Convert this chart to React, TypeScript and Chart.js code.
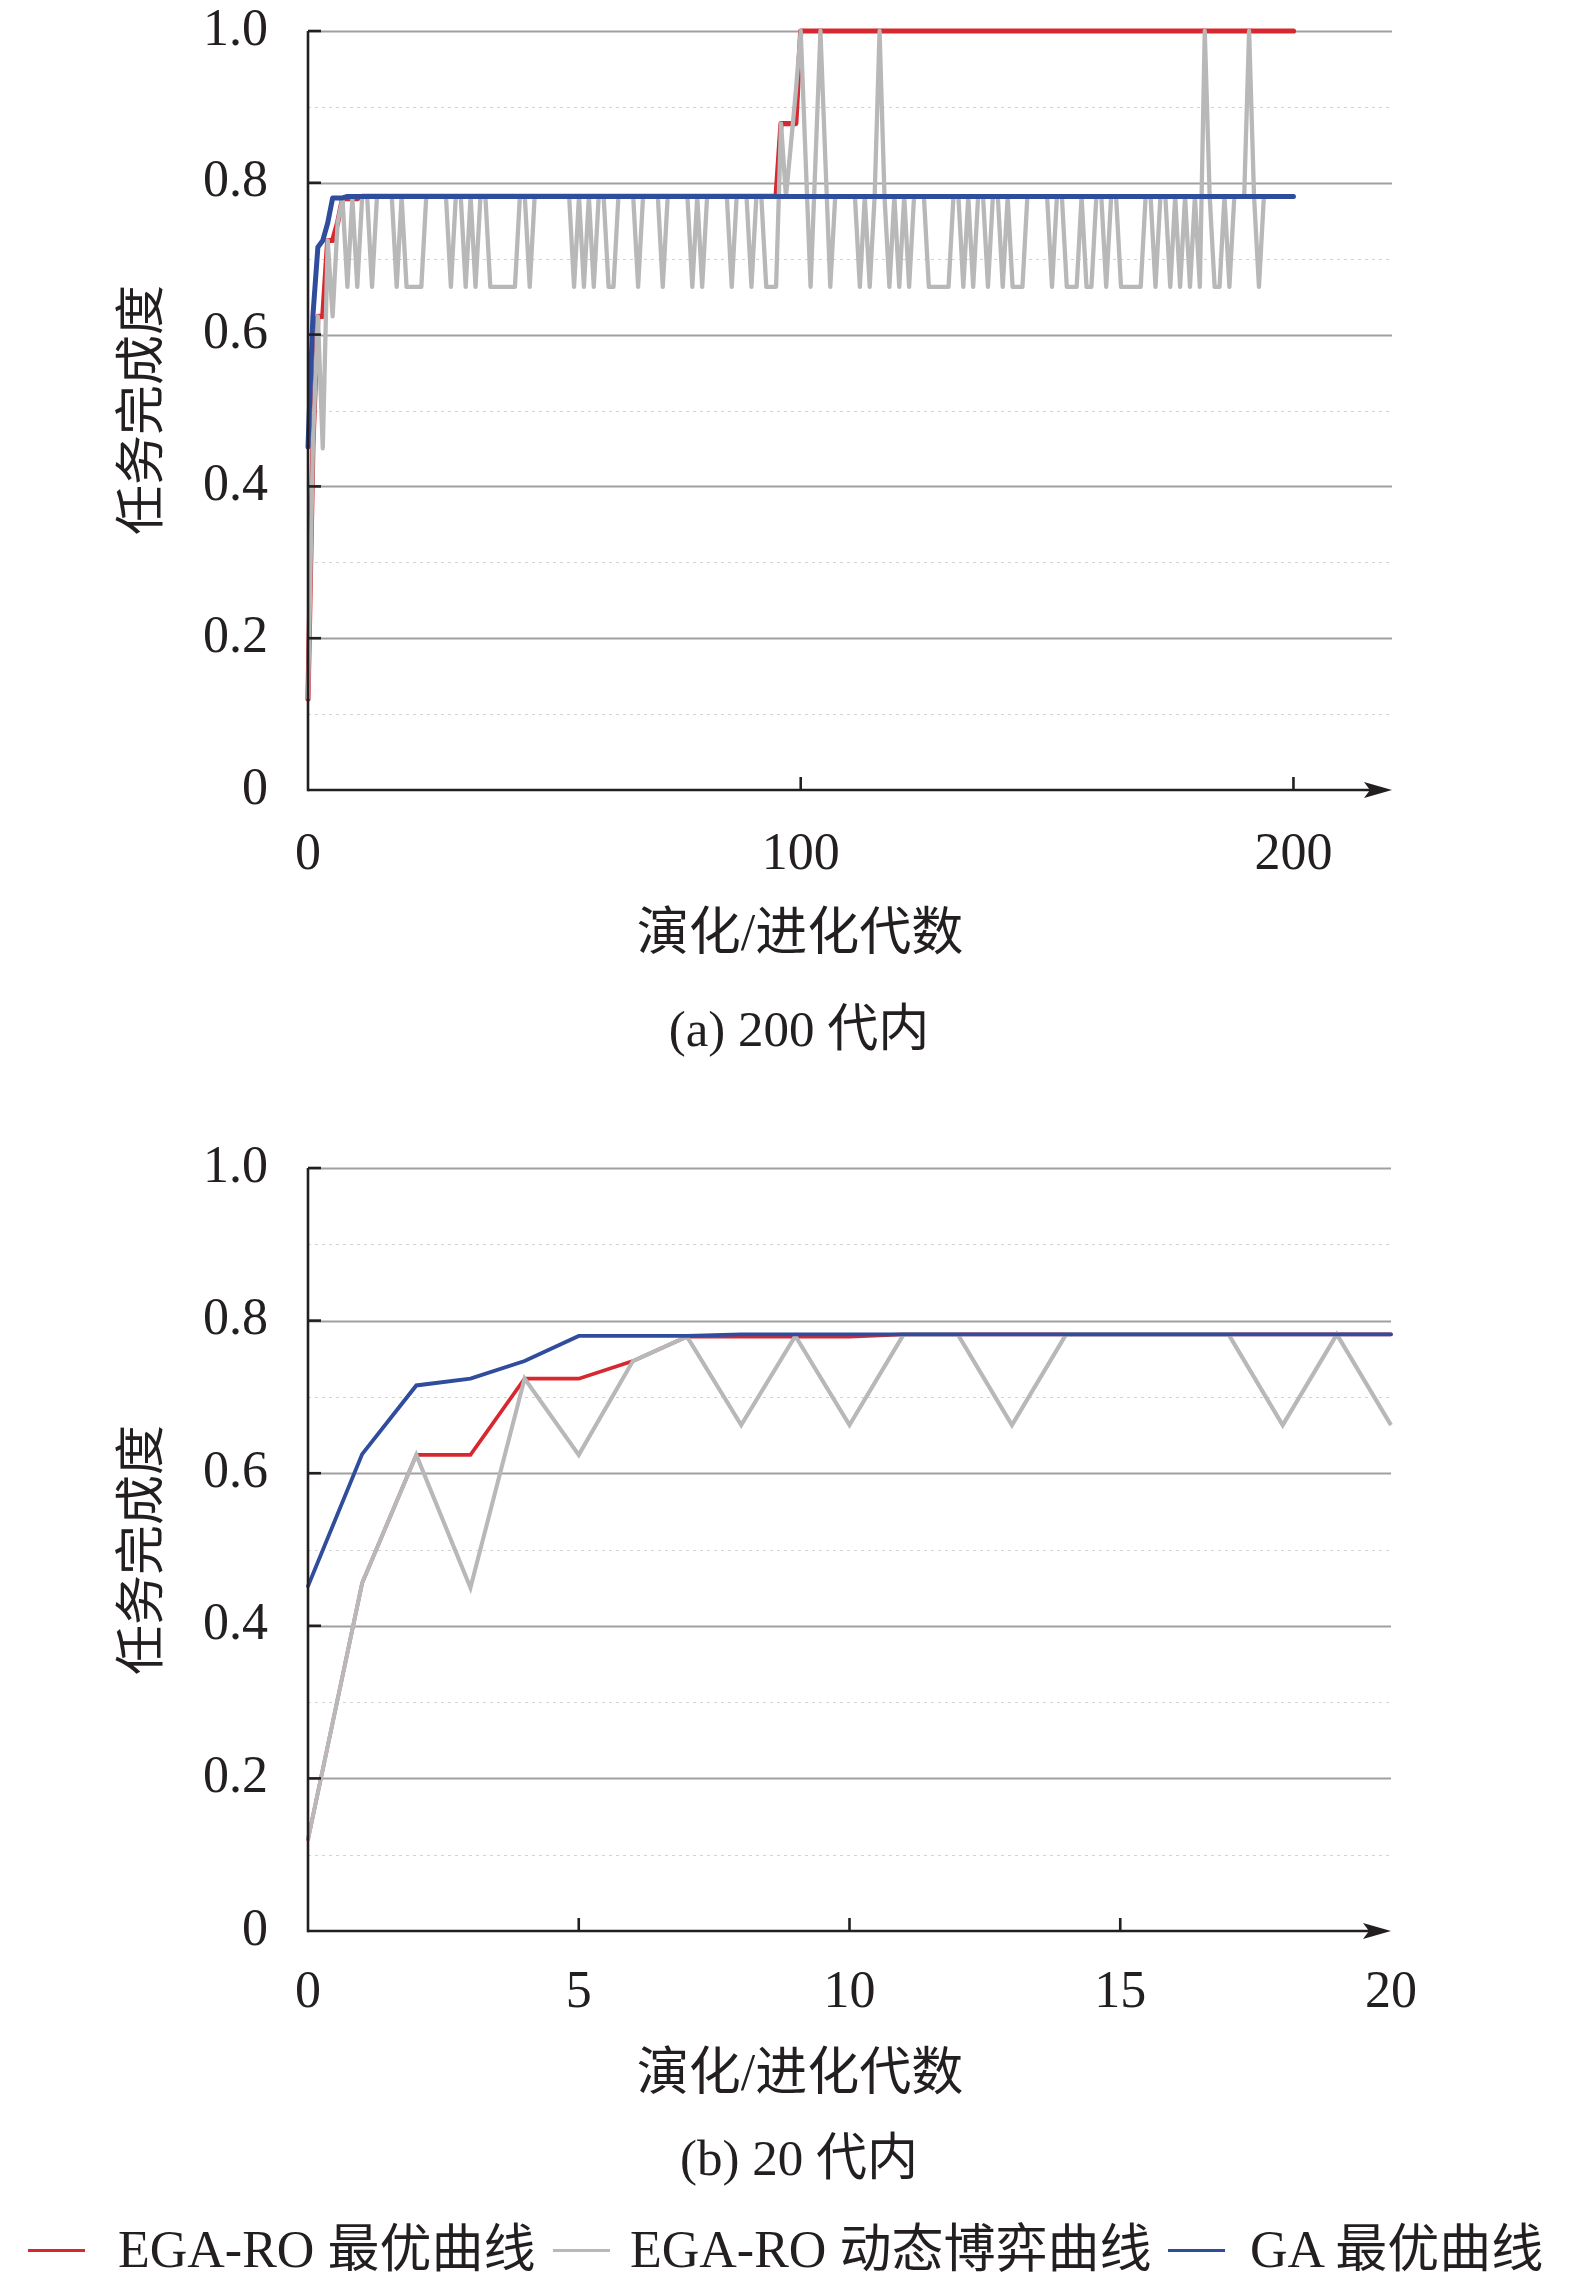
import { useEffect, useRef } from 'react';
import { Chart, registerables } from 'chart.js';

Chart.register(...registerables);

// ---- data ----

// (a) 200 generations: best curves given by their corner points (generation, value)
const egaBestGenA = [0, 1, 2, 3, 4, 5, 6, 7, 10, 11, 95, 96, 99, 100, 200];
const egaBestValA = [0.12, 0.456, 0.624, 0.624, 0.724, 0.724, 0.747, 0.779, 0.779, 0.782, 0.782, 0.878, 0.878, 1.0, 1.0];

const gaBestGenA = [0, 1, 2, 3, 4, 5, 7, 8, 200];
const gaBestValA = [0.452, 0.625, 0.715, 0.724, 0.747, 0.78, 0.78, 0.782, 0.782];

// dynamic game curve, one value per generation 0..194
const egaDynA = [
  0.12, 0.456, 0.624, 0.45, 0.724, 0.624, 0.747, 0.779, 0.663, 0.78,
  0.663, 0.782, 0.782, 0.663, 0.782, 0.782, 0.782, 0.782, 0.663, 0.782,
  0.663, 0.663, 0.663, 0.663, 0.782, 0.782, 0.782, 0.782, 0.782, 0.663,
  0.782, 0.782, 0.663, 0.782, 0.663, 0.782, 0.782, 0.663, 0.663, 0.663,
  0.663, 0.663, 0.663, 0.782, 0.782, 0.663, 0.782, 0.782, 0.782, 0.782,
  0.782, 0.782, 0.782, 0.782, 0.663, 0.782, 0.663, 0.782, 0.663, 0.782,
  0.782, 0.663, 0.663, 0.782, 0.782, 0.782, 0.782, 0.663, 0.782, 0.782,
  0.782, 0.782, 0.663, 0.782, 0.782, 0.782, 0.782, 0.782, 0.663, 0.782,
  0.663, 0.782, 0.782, 0.782, 0.782, 0.782, 0.663, 0.782, 0.782, 0.782,
  0.663, 0.782, 0.782, 0.663, 0.663, 0.663, 0.878, 0.782, 0.85, 0.92,
  1.0, 0.83, 0.663, 0.83, 1.0, 0.83, 0.663, 0.782, 0.782, 0.782,
  0.782, 0.782, 0.663, 0.782, 0.663, 0.782, 1.0, 0.782, 0.663, 0.782,
  0.663, 0.782, 0.663, 0.782, 0.782, 0.782, 0.663, 0.663, 0.663, 0.663,
  0.663, 0.782, 0.782, 0.663, 0.782, 0.663, 0.782, 0.782, 0.663, 0.782,
  0.782, 0.663, 0.782, 0.663, 0.663, 0.663, 0.782, 0.782, 0.782, 0.782,
  0.782, 0.663, 0.782, 0.782, 0.663, 0.663, 0.663, 0.782, 0.663, 0.663,
  0.782, 0.782, 0.663, 0.782, 0.782, 0.663, 0.663, 0.663, 0.663, 0.663,
  0.782, 0.782, 0.663, 0.782, 0.782, 0.663, 0.782, 0.663, 0.782, 0.663,
  0.782, 0.663, 1.0, 0.782, 0.663, 0.663, 0.782, 0.663, 0.782, 0.782,
  0.782, 1.0, 0.782, 0.663, 0.782
];

// (b) 20 generations
const gensB = [0, 1, 2, 3, 4, 5, 6, 7, 8, 9, 10, 11, 12, 13, 14, 15, 16, 17, 18, 19, 20];
const egaBestB = [0.12, 0.456, 0.624, 0.624, 0.724, 0.724, 0.747, 0.779, 0.779, 0.779, 0.779, 0.782, 0.782, 0.782, 0.782, 0.782, 0.782, 0.782, 0.782, 0.782, 0.782];
const egaDynB = [0.12, 0.456, 0.624, 0.45, 0.724, 0.624, 0.747, 0.779, 0.663, 0.78, 0.663, 0.782, 0.782, 0.663, 0.782, 0.782, 0.782, 0.782, 0.663, 0.782, 0.663];
const gaBestB = [0.452, 0.625, 0.715, 0.724, 0.747, 0.78, 0.78, 0.78, 0.782, 0.782, 0.782, 0.782, 0.782, 0.782, 0.782, 0.782, 0.782, 0.782, 0.782, 0.782, 0.782];

const xTicksA = [0, 100, 200];
const xTicksB = [0, 5, 10, 15, 20];
const yGrid = [0, 0.1, 0.2, 0.3, 0.4, 0.5, 0.6, 0.7, 0.8, 0.9, 1.0];
const yMajor = [0, 0.2, 0.4, 0.6, 0.8, 1.0];
const yLabels = ['0', '0.2', '0.4', '0.6', '0.8', '1.0'];

const seriesNames = ['EGA-RO 最优曲线', 'EGA-RO 动态博弈曲线', 'GA 最优曲线'];

// ---- styles ----
const RED = '#d7282f';
const GRAY = '#b8b8b8';
const BLUE = '#2f4d9c';
const INK = '#231f20';
const FONT = "'Liberation Serif', 'Noto Sans CJK SC', serif";

const toPts = (xs: number[], ys: number[]) => ys.map((y, i) => ({ x: xs[i], y }));
const idxPts = (ys: number[]) => ys.map((y, i) => ({ x: i, y }));

const isMajor = (v: number) => yMajor.some((m) => Math.abs(m - v) < 1e-6);

// gridlines, axis lines, inward ticks and the arrow
const axesDecor = {
  id: 'axesDecor',
  beforeDatasetsDraw(chart: any) {
    const { ctx, chartArea: a, scales } = chart;
    ctx.save();
    yGrid.forEach((v) => {
      if (v === 0) return;
      const y = Math.round(scales.y.getPixelForValue(v)) + 0.5;
      ctx.beginPath();
      if (isMajor(v)) {
        ctx.setLineDash([]);
        ctx.strokeStyle = '#a0a0a0';
        ctx.lineWidth = 1.8;
      } else {
        ctx.setLineDash([3, 4]);
        ctx.strokeStyle = '#d2d2d2';
        ctx.lineWidth = 1.2;
      }
      ctx.moveTo(a.left, y);
      ctx.lineTo(a.right, y);
      ctx.stroke();
    });
    ctx.restore();
  },
  afterDatasetsDraw(chart: any) {
    const { ctx, chartArea: a, scales } = chart;
    const x0 = scales.x.getPixelForValue(0);
    const y0 = scales.y.getPixelForValue(0);
    const yTop = scales.y.getPixelForValue(1);
    ctx.save();
    ctx.setLineDash([]);
    ctx.strokeStyle = INK;
    ctx.fillStyle = INK;
    ctx.lineWidth = 2.6;
    // y axis
    ctx.beginPath();
    ctx.moveTo(x0, y0 + 1.3);
    ctx.lineTo(x0, yTop);
    ctx.stroke();
    // y ticks (inward)
    yMajor.forEach((v) => {
      if (v === 0) return;
      const y = scales.y.getPixelForValue(v);
      ctx.beginPath();
      ctx.moveTo(x0, y);
      ctx.lineTo(x0 + 13, y);
      ctx.stroke();
    });
    // x axis with arrow
    const tip = a.right;
    ctx.beginPath();
    ctx.moveTo(x0, y0);
    ctx.lineTo(tip - 20, y0);
    ctx.stroke();
    ctx.beginPath();
    ctx.moveTo(tip, y0);
    ctx.lineTo(tip - 28, y0 - 8);
    ctx.lineTo(tip - 22, y0);
    ctx.lineTo(tip - 28, y0 + 8);
    ctx.closePath();
    ctx.fill();
    // x ticks (upward)
    (chart.options.xTickMarks || []).forEach((v: number) => {
      const x = scales.x.getPixelForValue(v);
      if (v === 0 || x > tip - 30) return;
      ctx.beginPath();
      ctx.moveTo(x, y0);
      ctx.lineTo(x, y0 - 13);
      ctx.stroke();
    });
    ctx.restore();
  }
};

interface PanelProps {
  top: number;
  height: number;
  padTop: number;
  padRight: number;
  xMax: number;
  xTicks: number[];
  tickPad: number;
  best: { x: number; y: number }[];
  dyn: { x: number; y: number }[];
  ga: { x: number; y: number }[];
  widths: [number, number, number];
  join: 'round' | 'miter';
}

function CurvePanel(p: PanelProps) {
  const canvasRef = useRef<HTMLCanvasElement | null>(null);

  useEffect(() => {
    if (!canvasRef.current) return;
    const tickFont = { family: FONT, size: 52 };
    const chart = new Chart(canvasRef.current, {
      type: 'line',
      data: {
        datasets: [
          {
            label: seriesNames[0],
            data: p.best,
            borderColor: RED,
            borderWidth: p.widths[0],
            pointRadius: 0,
            borderJoinStyle: p.join,
            borderCapStyle: 'round',
            clip: 8,
            order: 3
          },
          {
            label: seriesNames[1],
            data: p.dyn,
            borderColor: GRAY,
            borderWidth: p.widths[1],
            pointRadius: 0,
            borderJoinStyle: p.join,
            clip: 8,
            order: 2
          },
          {
            label: seriesNames[2],
            data: p.ga,
            borderColor: BLUE,
            borderWidth: p.widths[2],
            pointRadius: 0,
            borderJoinStyle: p.join,
            borderCapStyle: 'round',
            clip: 8,
            order: 1
          }
        ]
      },
      options: {
        responsive: true,
        maintainAspectRatio: false,
        animation: false,
        xTickMarks: p.xTicks,
        layout: { padding: { top: p.padTop, right: p.padRight, left: 0, bottom: 0 } },
        plugins: { legend: { display: false }, tooltip: { enabled: false } },
        scales: {
          x: {
            type: 'linear',
            min: 0,
            max: p.xMax,
            grid: { display: false },
            border: { display: false },
            afterBuildTicks: (s: any) => {
              s.ticks = p.xTicks.map((v) => ({ value: v }));
            },
            afterFit: (s: any) => {
              s.height = 110;
              s.paddingLeft = 0;
              s.paddingRight = 0;
            },
            ticks: { font: tickFont, color: INK, padding: p.tickPad, maxRotation: 0, autoSkip: false, includeBounds: false }
          },
          y: {
            type: 'linear',
            min: 0,
            max: 1,
            grid: { display: false },
            border: { display: false },
            afterBuildTicks: (s: any) => {
              s.ticks = yGrid.map((v) => ({ value: v }));
            },
            afterFit: (s: any) => {
              s.width = 308;
              s.paddingTop = 0;
              s.paddingBottom = 0;
            },
            ticks: {
              font: tickFont,
              color: INK,
              padding: 32,
              autoSkip: false,
              callback: (v: any) => {
                const i = yMajor.findIndex((m) => Math.abs(m - Number(v)) < 1e-6);
                return i >= 0 ? yLabels[i] : '';
              }
            }
          }
        }
      } as any,
      plugins: [axesDecor]
    });
    return () => chart.destroy();
  }, []);

  return (
    <div style={{ position: 'absolute', left: 0, top: p.top, width: 1575, height: p.height }}>
      <canvas ref={canvasRef} />
    </div>
  );
}

function Text({ cx, cy, text, size, rotate }: { cx: number; cy: number; text: string; size: number; rotate?: boolean }) {
  return (
    <div
      style={{
        position: 'absolute',
        left: cx - 300,
        top: cy - 30,
        width: 600,
        height: 60,
        lineHeight: '60px',
        textAlign: 'center',
        fontFamily: FONT,
        fontSize: size,
        color: INK,
        whiteSpace: 'nowrap',
        transform: rotate ? 'rotate(-90deg)' : undefined
      }}
    >
      {text}
    </div>
  );
}

function LegendItem({ x, color, textX, text }: { x: number; color: string; textX: number; text: string }) {
  return (
    <>
      <div style={{ position: 'absolute', left: x, top: 2249, width: 57, height: 3, background: color }} />
      <div
        style={{
          position: 'absolute',
          left: textX,
          top: 2220,
          height: 60,
          lineHeight: '60px',
          fontFamily: FONT,
          fontSize: 52,
          color: INK,
          whiteSpace: 'nowrap'
        }}
      >
        {text}
      </div>
    </>
  );
}

export default function App() {
  return (
    <div style={{ position: 'absolute', left: 0, top: 0, width: 1575, height: 2285, background: '#fff', overflow: 'hidden' }}>
      <CurvePanel
        top={0}
        height={900}
        padTop={31}
        padRight={183}
        xMax={220}
        xTicks={xTicksA}
        tickPad={26}
        best={toPts(egaBestGenA, egaBestValA)}
        dyn={idxPts(egaDynA)}
        ga={toPts(gaBestGenA, gaBestValA)}
        widths={[5.2, 4.3, 5]}
        join="round"
      />
      <Text cx={141} cy={410} size={50} text="任务完成度" rotate />
      <Text cx={800} cy={933} size={52} text="演化/进化代数" />
      <Text cx={799} cy={1029} size={51} text="(a) 200 代内" />

      <CurvePanel
        top={1130}
        height={911}
        padTop={38}
        padRight={184}
        xMax={20}
        xTicks={xTicksB}
        tickPad={23}
        best={toPts(gensB, egaBestB)}
        dyn={toPts(gensB, egaDynB)}
        ga={toPts(gensB, gaBestB)}
        widths={[3.6, 4.1, 3.9]}
        join="miter"
      />
      <Text cx={141} cy={1550} size={50} text="任务完成度" rotate />
      <Text cx={800} cy={2073} size={52} text="演化/进化代数" />
      <Text cx={799} cy={2158} size={51} text="(b) 20 代内" />

      <LegendItem x={28} color={RED} textX={118} text={seriesNames[0]} />
      <LegendItem x={553} color={GRAY} textX={630} text={seriesNames[1]} />
      <LegendItem x={1168} color={BLUE} textX={1250} text={seriesNames[2]} />
    </div>
  );
}
